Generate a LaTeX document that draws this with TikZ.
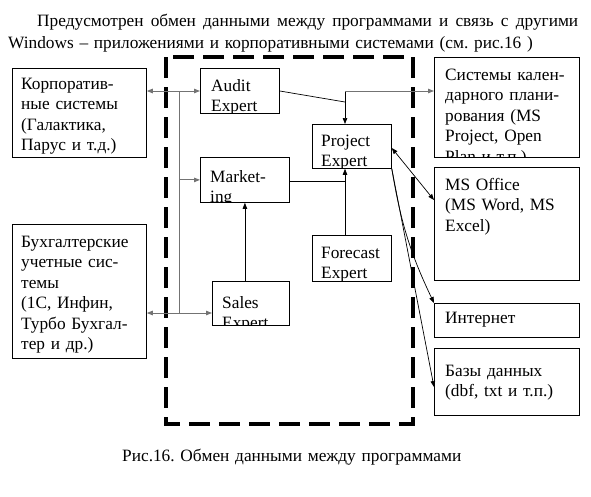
\documentclass[tikz,border=0pt]{standalone}
\usepackage{fontspec}
\setmainfont{Liberation Serif}
\usetikzlibrary{arrows.meta}
\frenchspacing
\tikzset{
  >={Triangle[length=6pt,width=4.5pt]},
  box/.style={draw, anchor=north west, inner sep=0pt, line width=.8pt},
  txt/.style={anchor=base west, inner sep=0pt, text width=150pt, align=left,
    font=\fontsize{17.3}{20.5}\selectfont},
  link/.style={line width=.7pt},
  greylink/.style={line width=1pt, draw=black!55, fill=black!55},
  frame/.style={line width=4pt, dash pattern=on 21pt off 9pt}
}
% text of a box, cut off at the box border
\newcommand{\boxtext}[4]{%
  \begin{scope}
    \clip (#1.south west) rectangle (#1.north east);
    \node[txt] (#1-txt) at ([xshift=#2pt,yshift=-#3pt]#1.north west) {#4};
  \end{scope}}
\begin{document}
\begin{tikzpicture}[x=1pt, y=-1pt]
  \useasboundingbox (0,0) rectangle (591,496);
  \node[txt, text width=570pt] (head1) at (37,26)
    {\spaceskip=.25em plus 1em\hbox to 541pt{Предусмотрен обмен данными между программами и связь с другими}};
  \node[txt, text width=570pt] (head2) at (8,48)
    {Windows – приложениями и корпоративными системами (см. рис.16 )};

  % programs of the package
  \draw[frame] (166,57) rectangle (413,424);

  \node[box, minimum width=134pt, minimum height=89pt] (corp) at (12,68) {};
  \node[box, minimum width=134pt, minimum height=134pt] (book) at (12,224) {};
  \node[box, minimum width=79pt, minimum height=45pt] (audit) at (200,68) {};
  \node[box, minimum width=89pt, minimum height=45pt] (mkt) at (200,157) {};
  \node[box, minimum width=77pt, minimum height=44pt] (sales) at (212,281) {};
  \node[box, minimum width=79pt, minimum height=44pt] (project) at (312,124) {};
  \node[box, minimum width=79pt, minimum height=46pt] (fc) at (312,235) {};
  \node[box, minimum width=145pt, minimum height=100pt] (cal) at (434,57) {};
  \node[box, minimum width=145pt, minimum height=113pt] (office) at (434,167) {};
  \node[box, minimum width=145pt, minimum height=34pt] (inet) at (434,303) {};
  \node[box, minimum width=145pt, minimum height=67pt] (db) at (434,348) {};

  \boxtext{corp}{9}{21}{Корпоратив-\\ные системы\\(Галактика,\\Парус и т.д.)}
  \boxtext{book}{9}{23}{Бухгалтерские\\учетные сис-\\темы\\(1С, Инфин,\\Турбо Бухгал-\\тер и др.)}
  \boxtext{audit}{11}{23}{Audit\\Expert}
  \boxtext{mkt}{10}{25}{Market-\\ing}
  \boxtext{sales}{10}{27}{Sales\\Expert}
  \boxtext{project}{9}{22}{Project\\Expert}
  \boxtext{fc}{9}{23}{Forecast\\Expert}
  \boxtext{cal}{11}{23}{Системы кален-\\дарного плани-\\рования (MS\\Project, Open\\Plan и т.п.)}
  \boxtext{office}{11}{23}{MS Office\\(MS Word, MS\\Excel)}
  \boxtext{inet}{11}{20}{Интернет}
  \boxtext{db}{11}{28}{Базы данных\\(dbf, txt и т.п.)}

  % data exchange
  \coordinate (bus top) at (179,91);
  \coordinate (bus bot) at (179,313);
  \coordinate (pin) at (345,91);
  \coordinate (pjoin) at (345,102);
  \coordinate (pout) at (345,181);

  \draw[greylink,<->] (corp.east |- bus top) -- (audit.west |- bus top);
  \draw[greylink] (bus top) -- (bus bot);
  \draw[greylink,->] (bus top |- mkt.west) -- (mkt.west);
  \draw[greylink,<->] (book.east |- bus bot) -- (sales.west |- bus bot);
  \draw[link] (audit.east |- bus top) -- (pjoin);
  \draw[link,->] (pin) -- (pin |- project.north);
  \draw[greylink,->] (pin) -- (cal.west |- pin);
  \draw[link] (mkt.east |- pout) -- (pout);
  \draw[link,->] (pin |- fc.north) -- (pin |- project.south);
  \draw[link,->] (sales.north -| mkt.south) -- (mkt.south);
  \draw[link,<->] ([yshift=-24pt]project.north east) -- ([yshift=-33pt]office.north west);
  \draw[link,->] (project.south east) to[bend right=8] (inet.north west);
  \draw[link,->] (project.south east) -- ([yshift=-39pt]db.north west);

  \node[txt, text width=400pt] (caption) at (122,461)
    {Рис.16. Обмен данными между программами};
\end{tikzpicture}
\end{document}
